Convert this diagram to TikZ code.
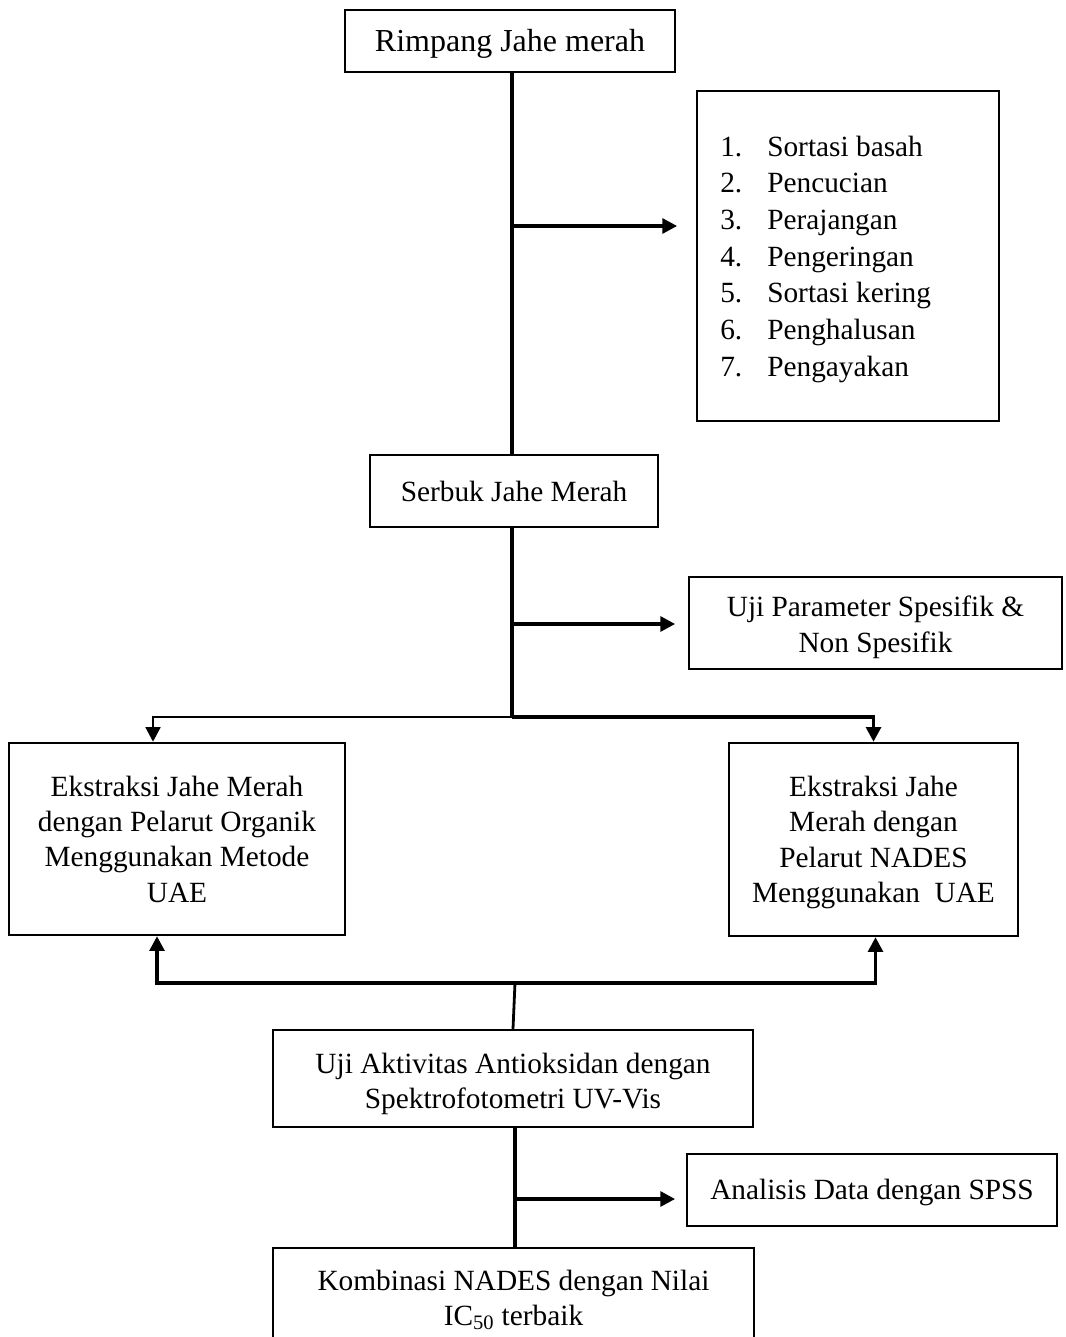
\documentclass[tikz,border=0pt]{standalone}
\usepackage{fontspec}
\setmainfont{Liberation Serif}
\usetikzlibrary{arrows.meta,calc}
\newcommand\lowtxt[2]{\raisebox{-#1}[\height][\depth]{\begin{tabular}{@{}c@{}}#2\end{tabular}}}
\begin{document}
\begin{tikzpicture}[x=0.75pt,y=-0.75pt,
  box/.style={draw,line width=1.8pt,inner sep=0pt,align=center,font=\fontsize{22}{26.5}\selectfont},
  conn/.style={line width=2.6pt},
  thinconn/.style={line width=2.1pt},
  tip/.style={-{Triangle[length=11pt,width=11pt]}},
]
\clip (0,0) rectangle (1065,1337);
% boxes
\node[box,minimum width=247.5pt,minimum height=46.5pt,font=\fontsize{24}{28}\selectfont] (title) at (510,41) {\lowtxt{2.5pt}{Rimpang Jahe merah}};
\node[box,minimum width=226.5pt,minimum height=247.5pt] (list) at (848,256) {};
\node[anchor=west,align=left,inner sep=0pt,font=\fontsize{22}{27.5}\selectfont] (listtxt) at (720,259)
  {\makebox[35.25pt][l]{1.}Sortasi basah\\
   \makebox[35.25pt][l]{2.}Pencucian\\
   \makebox[35.25pt][l]{3.}Perajangan\\
   \makebox[35.25pt][l]{4.}Pengeringan\\
   \makebox[35.25pt][l]{5.}Sortasi kering\\
   \makebox[35.25pt][l]{6.}Penghalusan\\
   \makebox[35.25pt][l]{7.}Pengayakan};
\node[box,minimum width=216pt,minimum height=54pt] (serbuk) at (514,491) {Serbuk Jahe Merah};
\node[box,minimum width=279.75pt,minimum height=69pt] (param) at (875.5,623) {\lowtxt{3.3pt}{Uji Parameter Spesifik \&\\Non Spesifik}};
\node[box,minimum width=252pt,minimum height=144pt] (ekL) at (177,839) {Ekstraksi Jahe Merah\\dengan Pelarut Organik\\Menggunakan Metode\\UAE};
\node[box,minimum width=216.75pt,minimum height=144.75pt] (ekR) at (873.5,839.5) {\lowtxt{2.2pt}{Ekstraksi Jahe\\Merah dengan\\Pelarut NADES\\Menggunakan\ \ UAE}};
\node[box,minimum width=360pt,minimum height=72.75pt] (ujiA) at (513,1078.5) {\lowtxt{4pt}{Uji Aktivitas Antioksidan dengan\\Spektrofotometri UV-Vis}};
\node[box,minimum width=277.5pt,minimum height=54pt] (anal) at (872,1190) {\lowtxt{1.5pt}{Analisis Data dengan SPSS}};
\node[box,minimum width=360.75pt,minimum height=75pt] (komb) at (513.5,1298) {\lowtxt{2pt}{Kombinasi NADES dengan Nilai\\IC\textsubscript{50} terbaik}};
% junctions
\coordinate (j0) at (512,226);
\coordinate (j1) at (512,624);
\coordinate (jm) at (512,717);
\coordinate (jb) at (515,983);
\coordinate (j3) at (515,1199);
% connectors
\draw[conn] (title.south -| j0) -- (serbuk.north -| j0);
\draw[conn,tip,shorten >=14pt] (j0) -- (j0 -| list.west);
\draw[conn] (serbuk.south -| jm) -- (jm);
\draw[conn,tip,shorten >=9.5pt] (j1) -- (j1 -| param.west);
\draw[thinconn,tip] (jm) -| ($(ekL.north)+(-24,0)$);
\draw[conn,tip] (jm) -| (ekR.north);
\draw[thinconn] (ujiA.north) -- (jb);
\draw[conn,tip] (jb) -| ($(ekL.south)+(-20,0)$);
\draw[conn,tip] (jb) -| ($(ekR.south)+(2,0)$);
\draw[conn] (ujiA.south -| j3) -- (komb.north -| j3);
\draw[conn,tip,shorten >=8pt] (j3) -- (j3 -| anal.west);
\end{tikzpicture}
\end{document}
